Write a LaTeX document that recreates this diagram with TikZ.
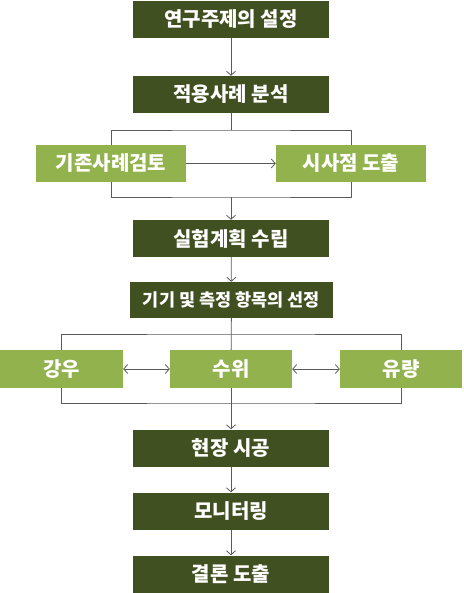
\documentclass[tikz,border=0pt]{standalone}
\usepackage{fontspec}
\setmainfont{Noto Sans CJK KR}
\usetikzlibrary{arrows.meta}
\definecolor{olivedark}{RGB}{64,80,32}
\definecolor{olivelight}{RGB}{146,178,78}
\definecolor{linegray}{RGB}{90,90,90}
\tikzset{
  darkbox/.style={fill=olivedark, text=white, minimum width=196pt, minimum height=37pt, inner sep=0pt, font=\bfseries\fontsize{20}{23}\selectfont},
  lightbox/.style={fill=olivelight, text=white, minimum height=37pt, inner sep=0pt, font=\bfseries\fontsize{20}{23}\selectfont},
  conn/.style={draw=linegray, line width=0.8pt},
  arr/.style={conn, -{Straight Barb[length=4pt, width=9pt]}},
  dblarr/.style={conn, {Straight Barb[length=4pt, width=9pt]}-{Straight Barb[length=4pt, width=9pt]}}
}
\begin{document}
\begin{tikzpicture}[x=1pt, y=-1pt]
            \useasboundingbox (0,0) rectangle (463,593);
            \node[darkbox] (topic) at (231,19.5) {연구주제의 설정};
            \node[darkbox] (analysis) at (231,94.5) {적용사례 분석};
            \node[lightbox, minimum width=150pt] (review) at (111,163.5) {기존사례검토};
            \node[lightbox, minimum width=150pt] (insight) at (351,163.5) {시사점 도출};
            \node[darkbox] (plan) at (231,238.5) {실험계획 수립};
            \node[darkbox, minimum width=203pt, minimum height=36pt, font=\bfseries\fontsize{17.5}{20}\selectfont] (items) at (231.5,300) {기기 및 측정 항목의 선정};
            \node[lightbox, minimum width=123pt, minimum height=38pt] (rain) at (61.5,369) {강우};
            \node[lightbox, minimum width=122pt, minimum height=38pt] (level) at (231,369) {수위};
            \node[lightbox, minimum width=122pt, minimum height=38pt] (flow) at (401,369) {유량};
            \node[darkbox] (site) at (231,448) {현장 시공};
            \node[darkbox] (monitor) at (231,511) {모니터링};
            \node[darkbox] (conclusion) at (231,574) {결론 도출};
            \coordinate (split1) at (231,130);
            \coordinate (merge1) at (231,197);
            \coordinate (split2) at (231,334);
            \coordinate (merge2) at (231,403);
            \draw[arr] (topic) -- (analysis);
            \draw[conn] (analysis) -- (split1);
            \draw[conn] (review.north) |- (split1) -| (insight.north);
            \draw[conn] (review.south) |- (merge1) -| (insight.south);
            \draw[arr] (review) -- (insight);
            \draw[arr] (merge1) -- (plan);
            \draw[arr] (plan) -- (items);
            \draw[conn] (items) -- (level);
            \draw[conn] (rain.north) |- (split2) -| (flow.north);
            \draw[conn] (rain.south) |- (merge2) -| (flow.south);
            \draw[dblarr] (rain) -- (level);
            \draw[dblarr] (level) -- (flow);
            \draw[arr] (level) -- (site);
            \draw[arr] (site) -- (monitor);
            \draw[arr] (monitor) -- (conclusion);
        \end{tikzpicture}
\end{document}
